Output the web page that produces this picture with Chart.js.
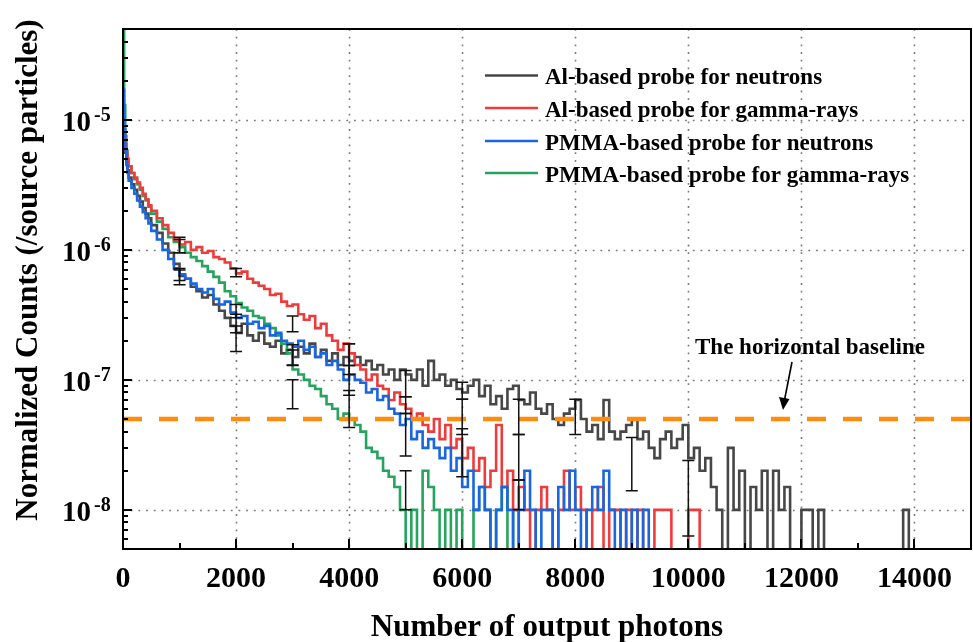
<!DOCTYPE html>
<html>
<head>
<meta charset="utf-8">
<script src="https://cdn.jsdelivr.net/npm/chart.js@4.4.1/dist/chart.umd.min.js"></script>
<style>
  html,body{margin:0;padding:0;background:#fff;}
  #wrap{width:973px;height:642px;position:relative;}
</style>
</head>
<body>
<div id="wrap"><canvas id="c" width="973" height="642"></canvas></div>
<script>
// ---------- DATA ----------
// bin start positions (number of output photons): fine bins near 0, then 100-photon bins
const EARLY_BINS = [0, 20, 40, 60, 80, 100, 150, 200, 250, 300, 350, 400, 450];
const BIN_X = EARLY_BINS.slice();
for (let b = 500; b <= 14000; b += 100) BIN_X.push(b);

const SERIES_LABELS = [
  'Al-based probe for neutrons',
  'Al-based probe for gamma-rays',
  'PMMA-based probe for neutrons',
  'PMMA-based probe for gamma-rays'
];

// Normalized counts per bin (0 = empty bin)
const AL_NEUTRON = [
  1.0e-5, 7.0e-6, 5.6e-6, 4.7e-6, 4.1e-6, 3.6e-6, 3.2e-6, 2.9e-6, 2.6e-6, 2.35e-6, 2.1e-6, 1.9e-6, 1.75e-6,
  1.55e-6, 1.35e-6, 1.12e-6, 0.95e-6, 0.78e-6, 0.63e-6, 0.6e-6, 0.52e-6, 0.48e-6, 0.43e-6,
  0.45e-6, 0.38e-6, 0.34e-6, 0.3e-6, 0.26e-6, 0.23e-6, 0.27e-6, 0.22e-6, 0.2e-6, 0.23e-6,
  0.19e-6, 0.18e-6, 0.2e-6, 0.16e-6, 0.17e-6, 0.15e-6, 0.18e-6, 0.16e-6, 0.19e-6, 0.15e-6,
  0.17e-6, 0.14e-6, 0.16e-6, 0.13e-6, 0.15e-6, 0.14e-6, 0.15e-6, 0.13e-6, 0.14e-6, 0.12e-6,
  0.13e-6, 0.11e-6, 0.12e-6, 0.1e-6, 0.12e-6, 0.11e-6, 0.1e-6, 0.12e-6, 0.09e-6, 0.14e-6,
  0.1e-6, 0.11e-6, 0.09e-6, 0.1e-6, 0.085e-6, 0.08e-6, 0.09e-6, 0.1e-6, 0.075e-6, 0.09e-6,
  0.065e-6, 0.075e-6, 0.06e-6, 0.085e-6, 0.09e-6, 0.07e-6, 0.065e-6, 0.08e-6, 0.06e-6, 0.055e-6,
  0.065e-6, 0.05e-6, 0.045e-6, 0.055e-6, 0.06e-6, 0.07e-6, 0.05e-6, 0.04e-6, 0.045e-6, 0.035e-6,
  0.07e-6, 0.04e-6, 0.035e-6, 0.04e-6, 0.045e-6, 0.05e-6, 0.035e-6, 0.04e-6, 0.03e-6, 0.025e-6,
  0.035e-6, 0.04e-6, 0.03e-6, 0.035e-6, 0.045e-6, 0.025e-6, 0.03e-6, 0.02e-6, 0.025e-6, 0.015e-6,
  0.01e-6, 0, 0.03e-6, 0.01e-6, 0.02e-6, 0, 0.015e-6, 0.01e-6, 0.02e-6, 0,
  0.02e-6, 0.01e-6, 0.015e-6, 0, 0, 0.01e-6, 0.01e-6, 0, 0.01e-6, 0,
  0, 0, 0, 0, 0, 0, 0, 0, 0, 0,
  0, 0, 0, 0.01e-6, 0
];
const AL_GAMMA = [
  1.2e-5, 8.0e-6, 6.5e-6, 5.5e-6, 5.0e-6, 4.4e-6, 3.9e-6, 3.6e-6, 3.3e-6, 3.0e-6, 2.7e-6, 2.45e-6, 2.2e-6,
  2.0e-6, 1.75e-6, 1.55e-6, 1.35e-6, 1.2e-6, 1.1e-6, 1.15e-6, 1.0e-6, 1.05e-6, 0.95e-6,
  0.98e-6, 0.88e-6, 0.85e-6, 0.8e-6, 0.72e-6, 0.66e-6, 0.68e-6, 0.6e-6, 0.56e-6, 0.53e-6,
  0.5e-6, 0.45e-6, 0.46e-6, 0.4e-6, 0.37e-6, 0.38e-6, 0.32e-6, 0.29e-6, 0.31e-6, 0.25e-6,
  0.27e-6, 0.22e-6, 0.2e-6, 0.17e-6, 0.19e-6, 0.16e-6, 0.13e-6, 0.12e-6, 0.1e-6, 0.11e-6,
  0.09e-6, 0.085e-6, 0.07e-6, 0.08e-6, 0.065e-6, 0.06e-6, 0.05e-6, 0.055e-6, 0.045e-6, 0.04e-6,
  0.05e-6, 0.035e-6, 0.045e-6, 0.03e-6, 0.035e-6, 0.025e-6, 0.03e-6, 0.02e-6, 0.025e-6, 0.015e-6,
  0.02e-6, 0.045e-6, 0.015e-6, 0.02e-6, 0.01e-6, 0.015e-6, 0.01e-6, 0, 0.01e-6, 0.015e-6,
  0.01e-6, 0, 0.01e-6, 0.02e-6, 0.01e-6, 0.015e-6, 0.01e-6, 0, 0.01e-6, 0.015e-6,
  0, 0.01e-6, 0.01e-6, 0, 0.01e-6, 0, 0.01e-6, 0, 0, 0.01e-6,
  0.01e-6, 0.01e-6, 0, 0, 0, 0.01e-6, 0.01e-6, 0
];
const PMMA_NEUTRON = [
  1.7e-5, 8.5e-6, 5.8e-6, 4.5e-6, 3.9e-6, 3.4e-6, 3.0e-6, 2.7e-6, 2.4e-6, 2.15e-6, 1.95e-6, 1.75e-6, 1.6e-6,
  1.4e-6, 1.2e-6, 1.0e-6, 0.85e-6, 0.72e-6, 0.65e-6, 0.6e-6, 0.55e-6, 0.5e-6, 0.47e-6,
  0.5e-6, 0.42e-6, 0.38e-6, 0.4e-6, 0.33e-6, 0.3e-6, 0.31e-6, 0.27e-6, 0.28e-6, 0.25e-6,
  0.26e-6, 0.22e-6, 0.23e-6, 0.2e-6, 0.19e-6, 0.18e-6, 0.2e-6, 0.17e-6, 0.18e-6, 0.15e-6,
  0.16e-6, 0.13e-6, 0.14e-6, 0.12e-6, 0.1e-6, 0.11e-6, 0.1e-6, 0.095e-6, 0.08e-6, 0.085e-6,
  0.07e-6, 0.075e-6, 0.06e-6, 0.055e-6, 0.045e-6, 0.05e-6, 0.035e-6, 0.04e-6, 0.03e-6, 0.035e-6,
  0.03e-6, 0.025e-6, 0.03e-6, 0.02e-6, 0.025e-6, 0.015e-6, 0.02e-6, 0.01e-6, 0.015e-6, 0.01e-6,
  0, 0.01e-6, 0.015e-6, 0.01e-6, 0, 0.01e-6, 0.02e-6, 0.01e-6, 0, 0.01e-6,
  0.01e-6, 0, 0.015e-6, 0.01e-6, 0.02e-6, 0.01e-6, 0, 0.01e-6, 0.015e-6, 0.01e-6,
  0.02e-6, 0.01e-6, 0, 0.01e-6, 0, 0.01e-6, 0, 0.01e-6
];
const PMMA_GAMMA = [
  5.0e-5, 1.3e-5, 7.5e-6, 5.8e-6, 5.0e-6, 4.4e-6, 3.9e-6, 3.5e-6, 3.2e-6, 2.9e-6, 2.6e-6, 2.4e-6, 2.15e-6,
  1.9e-6, 1.65e-6, 1.45e-6, 1.25e-6, 1.15e-6, 1.05e-6, 0.95e-6, 0.88e-6, 0.82e-6, 0.75e-6,
  0.68e-6, 0.62e-6, 0.56e-6, 0.48e-6, 0.44e-6, 0.39e-6, 0.36e-6, 0.34e-6, 0.31e-6, 0.3e-6,
  0.27e-6, 0.25e-6, 0.22e-6, 0.19e-6, 0.16e-6, 0.12e-6, 0.11e-6, 0.1e-6, 0.09e-6, 0.085e-6,
  0.075e-6, 0.065e-6, 0.06e-6, 0.05e-6, 0.055e-6, 0.05e-6, 0.045e-6, 0.04e-6, 0.03e-6, 0.028e-6,
  0.025e-6, 0.02e-6, 0.018e-6, 0.015e-6, 0.01e-6, 0, 0.01e-6, 0, 0.02e-6, 0.015e-6,
  0.01e-6, 0, 0.01e-6, 0, 0.01e-6, 0, 0, 0.01e-6, 0.015e-6, 0.01e-6,
  0, 0.01e-6, 0.015e-6, 0, 0.01e-6
];

// error bars (x position, lower, upper)
const ERR_X = [1000, 2000, 3000, 4000, 5000, 6000, 7000, 8000, 9000, 10000];
const AL_NEUTRON_ERR_LO = [5.4e-7, 1.65e-7, 1.3e-7, 1.1e-7, 7.4e-8, 7.1e-8, 3.8e-8, 3.8e-8, 1.4e-8, 6.3e-9];
const AL_NEUTRON_ERR_HI = [7.0e-7, 2.6e-7, 1.86e-7, 1.9e-7, 1.18e-7, 9.6e-8, 7.1e-8, 7.1e-8, 3.6e-8, 2.4e-8];
const AL_GAMMA_ERR_LO = [0.95e-6, 6.2e-7, 2.35e-7, 1.29e-7, 5.5e-8, 3.8e-8, 1.7e-8];
const AL_GAMMA_ERR_HI = [1.25e-6, 7.2e-7, 3.1e-7, 1.9e-7, 7.4e-8, 7.1e-8, 3.8e-8];
const PMMA_NEUTRON_ERR_LO = [5.8e-7, 2.3e-7, 1.29e-7, 7.6e-8, 2.6e-8, 1.8e-8, 1.0e-8];
const PMMA_NEUTRON_ERR_HI = [7.2e-7, 3.2e-7, 1.7e-7, 1.29e-7, 5.5e-8, 4.2e-8, 1.7e-8];
const PMMA_GAMMA_ERR_LO = [0.95e-6, 3.0e-7, 6.0e-8, 4.3e-8, 1.0e-8];
const PMMA_GAMMA_ERR_HI = [1.2e-6, 3.8e-7, 1.0e-7, 8.3e-8, 2.0e-8];

const BASELINE_VALUE = 5e-8;
const BASELINE_LABEL = 'The horizontal baseline';

const X_TITLE = 'Number of output photons';
const Y_TITLE = 'Normalized Counts (/source particles)';
const Y_DECADES = [1e-8, 1e-7, 1e-6, 1e-5];
const Y_DECADE_EXP = ['-8', '-7', '-6', '-5'];
const Y_MINOR_MANTISSA = [2, 3, 4, 5, 6, 7, 8, 9];
const X_GRID = [2000, 4000, 6000, 8000, 10000, 12000, 14000];

const Y_MIN = 5e-9, Y_MAX = 5e-5, X_MIN = 0, X_MAX = 15000;

// ---------- STYLE ----------
const COLORS = ['#474747', '#EE3B3B', '#1A66E0', '#26A45E'];
const BASE_COLOR = '#FF8C0F';
const FONT = "'Liberation Serif', 'Times New Roman', serif";
const ZERO_PLOT = Y_MIN / 10; // empty bins fall below the axis

function toPoints(vals) {
  const pts = vals.map((v, i) => ({ x: BIN_X[i], y: v === 0 ? ZERO_PLOT : v }));
  const n = vals.length;
  const last = vals[n - 1] === 0 ? ZERO_PLOT : vals[n - 1];
  pts.push({ x: BIN_X[n], y: last });
  pts.push({ x: BIN_X[n], y: ZERO_PLOT });
  return pts;
}

const SERIES = [AL_NEUTRON, AL_GAMMA, PMMA_NEUTRON, PMMA_GAMMA];
const ERRS = [
  [AL_NEUTRON_ERR_LO, AL_NEUTRON_ERR_HI],
  [AL_GAMMA_ERR_LO, AL_GAMMA_ERR_HI],
  [PMMA_NEUTRON_ERR_LO, PMMA_NEUTRON_ERR_HI],
  [PMMA_GAMMA_ERR_LO, PMMA_GAMMA_ERR_HI]
];
const DRAW_ORDER = [4, 2, 1, 3]; // higher = drawn earlier (underneath)

const datasets = SERIES.map((vals, i) => ({
  label: SERIES_LABELS[i],
  data: toPoints(vals),
  borderColor: COLORS[i],
  backgroundColor: COLORS[i],
  borderWidth: 2.6,
  stepped: 'before',
  pointRadius: 0,
  fill: false,
  clip: 0,
  order: DRAW_ORDER[i]
}));
datasets.push({
  label: BASELINE_LABEL,
  data: [{ x: X_MIN, y: BASELINE_VALUE }, { x: X_MAX, y: BASELINE_VALUE }],
  borderColor: BASE_COLOR,
  borderWidth: 4.5,
  borderDash: [19, 17],
  pointRadius: 0,
  fill: false,
  clip: 0,
  order: 0
});

const decorPlugin = {
  id: 'decor',
  beforeDatasetsDraw(chart) {
    const { ctx, chartArea: a, scales: { x, y } } = chart;
    ctx.save();
    ctx.strokeStyle = '#7a7a7a';
    ctx.lineWidth = 1.6;
    ctx.setLineDash([1.8, 5.9]);
    X_GRID.forEach(v => {
      const px = Math.round(x.getPixelForValue(v)) + 0.5;
      ctx.beginPath(); ctx.moveTo(px, a.top); ctx.lineTo(px, a.bottom); ctx.stroke();
    });
    Y_DECADES.forEach(v => {
      const py = Math.round(y.getPixelForValue(v)) + 0.5;
      ctx.beginPath(); ctx.moveTo(a.left, py); ctx.lineTo(a.right, py); ctx.stroke();
    });
    ctx.restore();
  },
  afterDatasetsDraw(chart) {
    const { ctx, chartArea: a, scales: { x, y } } = chart;
    ctx.save();
    // error bars
    ctx.beginPath();
    ctx.rect(a.left, a.top, a.right - a.left, a.bottom - a.top);
    ctx.clip();
    ctx.strokeStyle = '#111';
    ctx.lineWidth = 1.5;
    ERRS.forEach(([lo, hi]) => {
      lo.forEach((l, i) => {
        const px = x.getPixelForValue(ERR_X[i]);
        const p1 = y.getPixelForValue(l), p2 = y.getPixelForValue(hi[i]);
        ctx.beginPath();
        ctx.moveTo(px, p1); ctx.lineTo(px, p2);
        ctx.moveTo(px - 6, p1); ctx.lineTo(px + 6, p1);
        ctx.moveTo(px - 6, p2); ctx.lineTo(px + 6, p2);
        ctx.stroke();
      });
    });
    ctx.restore();

    ctx.save();
    // full frame (axes redrawn on top of the data)
    ctx.strokeStyle = '#000';
    ctx.lineWidth = 2;
    ctx.beginPath();
    ctx.moveTo(a.left, a.top); ctx.lineTo(a.right, a.top); ctx.lineTo(a.right, a.bottom);
    ctx.lineTo(a.left, a.bottom); ctx.closePath();
    ctx.stroke();
    // y ticks (inside)
    ctx.lineWidth = 2;
    const decs = [1e-9].concat(Y_DECADES);
    decs.forEach(d => {
      [1].concat(Y_MINOR_MANTISSA).forEach(m => {
        const v = m * d;
        if (v < Y_MIN || v > Y_MAX) return;
        const py = Math.round(y.getPixelForValue(v));
        const len = m === 1 ? 9 : 5;
        ctx.beginPath(); ctx.moveTo(a.left, py); ctx.lineTo(a.left + len, py); ctx.stroke();
      });
    });
    // x ticks (inside)
    x.ticks.forEach(t => {
      const px = Math.round(x.getPixelForValue(t.value));
      const len = t.value % 2000 === 0 ? 10 : 6;
      ctx.beginPath(); ctx.moveTo(px, a.bottom); ctx.lineTo(px, a.bottom - len); ctx.stroke();
    });
    // y tick labels 10^n
    ctx.fillStyle = '#000';
    ctx.textBaseline = 'alphabetic';
    ctx.textAlign = 'left';
    Y_DECADES.forEach((v, i) => {
      const py = y.getPixelForValue(v);
      ctx.font = 'bold 29px ' + FONT;
      ctx.fillText('10', 62, py + 11);
      const w = ctx.measureText('10').width;
      ctx.font = 'bold 20px ' + FONT;
      ctx.fillText(Y_DECADE_EXP[i], 62 + w + 3, py + 1);
    });
    // axis titles
    ctx.font = 'bold 31px ' + FONT;
    ctx.textAlign = 'center';
    ctx.fillText(X_TITLE, (a.left + a.right) / 2, 636);
    ctx.save();
    ctx.translate(37, 270);
    ctx.rotate(-Math.PI / 2);
    ctx.fillText(Y_TITLE, 0, 0);
    ctx.restore();
    // legend
    const LEG_Y = [75.5, 108, 141, 173];
    ctx.font = 'bold 23px ' + FONT;
    ctx.textAlign = 'left';
    SERIES_LABELS.forEach((lab, i) => {
      ctx.strokeStyle = COLORS[i];
      ctx.lineWidth = 2.5;
      ctx.beginPath(); ctx.moveTo(485, LEG_Y[i]); ctx.lineTo(538, LEG_Y[i]); ctx.stroke();
      ctx.fillStyle = '#000';
      ctx.fillText(lab, 545, LEG_Y[i] + 8.5);
    });
    // annotation
    ctx.font = 'bold 23px ' + FONT;
    ctx.fillText(BASELINE_LABEL, 695, 354);
    ctx.strokeStyle = '#000';
    ctx.lineWidth = 1.6;
    ctx.beginPath(); ctx.moveTo(792, 362); ctx.lineTo(784.5, 400); ctx.stroke();
    ctx.beginPath();
    ctx.moveTo(783, 410); ctx.lineTo(779, 397); ctx.lineTo(789.5, 399); ctx.closePath();
    ctx.fillStyle = '#000'; ctx.fill();
    ctx.restore();
  }
};

new Chart(document.getElementById('c'), {
  type: 'line',
  data: { datasets },
  options: {
    responsive: false,
    animation: false,
    devicePixelRatio: 1,
    layout: { padding: { top: 29, right: 2, left: 0, bottom: 0 } },
    plugins: { legend: { display: false }, tooltip: { enabled: false } },
    scales: {
      x: {
        type: 'linear', min: X_MIN, max: X_MAX,
        grid: { display: false, drawTicks: false },
        border: { display: true, color: '#000', width: 2 },
        ticks: {
          stepSize: 1000, autoSkip: false, maxRotation: 0, padding: 12,
          color: '#000',
          font: { family: FONT, size: 30, weight: 'bold' },
          callback: v => (v % 2000 === 0 && v < X_MAX) ? String(v) : ''
        },
        afterFit: s => { s.height = 93; s.paddingLeft = 0; s.paddingRight = 0; }
      },
      y: {
        type: 'logarithmic', min: Y_MIN, max: Y_MAX,
        grid: { display: false, drawTicks: false },
        border: { display: true, color: '#000', width: 2 },
        ticks: { display: false },
        afterFit: s => { s.width = 123; }
      }
    }
  },
  plugins: [decorPlugin]
});
</script>
</body>
</html>
